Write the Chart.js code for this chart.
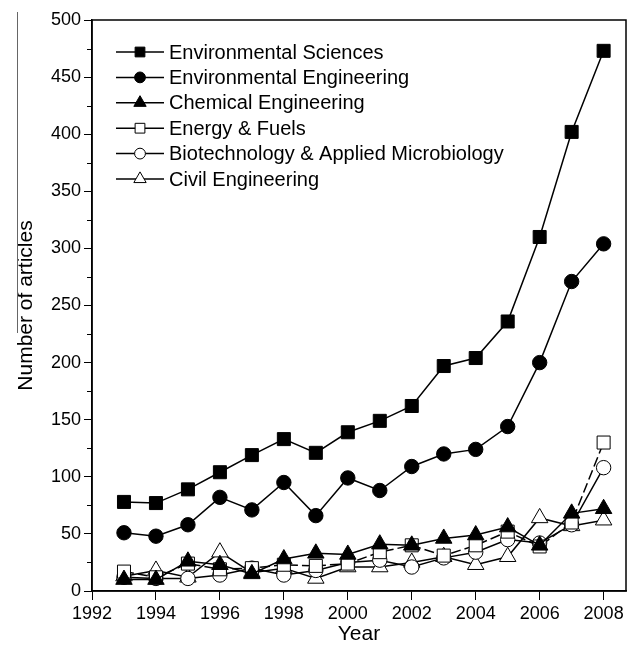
<!DOCTYPE html>
<html>
<head>
<meta charset="utf-8">
<script src="https://cdn.jsdelivr.net/npm/chart.js@4.4.0/dist/chart.umd.min.js"></script>
<style>
html,body{margin:0;padding:0;background:#fff;overflow:hidden}
canvas{display:block}
</style>
</head>
<body>
<canvas id="c" width="627" height="648"></canvas>
<script>
// values
const years=[1993,1994,1995,1996,1997,1998,1999,2000,2001,2002,2003,2004,2005,2006,2007,2008];
const envSci=[78,77,89,104,119,133,121,139,149,162,197,204,236,310,402,473];
const envEng=[51,48,58,82,71,95,66,99,88,109,120,124,144,200,271,304];
const chemEng=[10,10,26,23,15,28,33,32,41,40,46,49,56,40,68,72];
const energy=[17,12,24,19,20,23,22,24,34,40,31,40,52,39,60,130];
const biotech=[12,11,11,14,20,14,18,25,27,21,29,34,45,42,58,108];
const civil=[13,18,12,34,16,20,11,21,21,25,30,23,30,64,57,62];
const names=["Environmental Sciences","Environmental Engineering","Chemical Engineering",
  "Energy & Fuels","Biotechnology & Applied Microbiology","Civil Engineering"];
const yMinor=[25,75,125,175,225,275,325,375,425,475];

const FONT="'Liberation Sans', Arial, sans-serif";

const markers=[
  {style:"rect",radius:9.2,fill:"#000"},
  {style:"circle",radius:7.2,fill:"#000"},
  {style:"triangle",radius:9.5,fill:"#000"},
  {style:"rect",radius:9.2,fill:"#fff"},
  {style:"circle",radius:7.2,fill:"#fff"},
  {style:"triangle",radius:9.5,fill:"#fff"}
];

function pts(arr){ return years.map((y,i)=>({x:y,y:arr[i]})); }

const series=[envSci,envEng,chemEng,energy,biotech,civil];
const datasets=series.map((s,i)=>({
  label:names[i],
  data:pts(s),
  borderColor:"#000",
  borderWidth:1.5,
  borderDash:i==3?[10,4]:[],
  pointStyle:markers[i].style,
  pointRadius:markers[i].radius,
  pointBackgroundColor:markers[i].fill,
  pointBorderColor:"#000",
  pointBorderWidth:1,
  tension:0
}));

const extras={
  id:"extras",
  afterDraw(chart){
    const ctx=chart.ctx, a=chart.chartArea, ys=chart.scales.y;
    ctx.save();
    // frame
    ctx.strokeStyle="#000";
    ctx.lineWidth=1.5;
    ctx.strokeRect(a.left,a.top,a.right-a.left,a.bottom-a.top);
    // minor ticks on y
    ctx.lineWidth=1;
    yMinor.forEach(v=>{
      const py=Math.round(ys.getPixelForValue(v))+0.5;
      ctx.beginPath(); ctx.moveTo(a.left-5,py); ctx.lineTo(a.left,py); ctx.stroke();
    });
    // stray line near the y title
    ctx.strokeStyle="#666";
    ctx.beginPath(); ctx.moveTo(17.5,12); ctx.lineTo(17.5,333); ctx.stroke();
    // legend
    ctx.font="20px "+FONT;
    ctx.textBaseline="middle";
    names.forEach((n,i)=>{
      const y=52+i*25.4;
      ctx.strokeStyle="#000";
      ctx.lineWidth=1.5;
      ctx.beginPath(); ctx.moveTo(116,y); ctx.lineTo(164,y); ctx.stroke();
      ctx.fillStyle=markers[i].fill;
      ctx.lineWidth=1;
      Chart.helpers.drawPoint(ctx,{pointStyle:markers[i].style,radius:markers[i].radius*0.75,rotation:0,borderWidth:1},140,y);
      ctx.fillStyle="#000";
      ctx.fillText(n,169,y+1);
    });
    ctx.restore();
  }
};

new Chart(document.getElementById("c"),{
  type:"line",
  data:{datasets},
  options:{
    responsive:false,
    animation:false,
    layout:{autoPadding:false,padding:{top:20,right:1,left:0,bottom:0}},
    plugins:{legend:{display:false},tooltip:{enabled:false}},
    scales:{
      x:{
        type:"linear",
        min:1992,max:2008.7,
        afterFit(s){ s.height=57; s.paddingRight=0; s.paddingLeft=0; },
        grid:{drawOnChartArea:false,drawTicks:true,tickLength:9,color:"#000",lineWidth:1},
        border:{display:true,color:"#000",width:1.5},
        ticks:{stepSize:2,includeBounds:false,color:"#000",padding:3,font:{family:FONT,size:18},
          callback:v=>String(v)},
        title:{display:true,text:"Year",color:"#000",font:{family:FONT,size:21},padding:{top:0,bottom:1}}
      },
      y:{
        min:0,max:500,
        afterFit(s){ s.width=92; s.paddingTop=0; s.paddingBottom=0; },
        grid:{drawOnChartArea:false,drawTicks:true,tickLength:8,color:"#000",lineWidth:1},
        border:{display:true,color:"#000",width:1.5},
        ticks:{stepSize:50,color:"#000",padding:3,font:{family:FONT,size:18}},
        title:{display:true,text:"Number of articles",color:"#000",font:{family:FONT,size:21},padding:{top:14,bottom:0}}
      }
    }
  },
  plugins:[extras]
});
</script>
</body>
</html>
